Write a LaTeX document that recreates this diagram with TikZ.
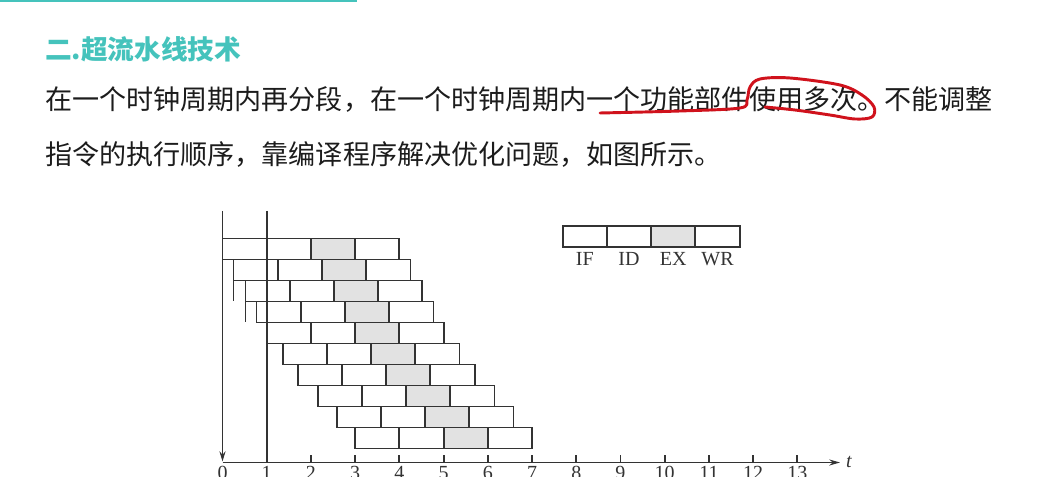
\documentclass[tikz,border=0pt]{standalone}
\usepackage{fontspec}
\setmainfont{Liberation Serif}
\newfontfamily\cjk{Noto Sans CJK SC}
\usetikzlibrary{arrows.meta}
\definecolor{teal1}{HTML}{45C3BC}
\definecolor{inkred}{HTML}{D0121C}
\definecolor{lineg}{HTML}{333333}
\definecolor{exg}{HTML}{E2E2E2}
\definecolor{txt}{HTML}{1C1C1C}
\begin{document}
\begin{tikzpicture}[x=0.75pt,y=-0.75pt,
  stage/.style={draw=lineg,line width=1.4pt,minimum width=33.17pt,minimum height=15.75pt,inner sep=0pt,outer sep=0pt,anchor=north west},
  ex/.style={stage,fill=exg},
  chartline/.style={draw=lineg,line width=1.4pt},
  lab/.style={font=\fontsize{15}{15}\selectfont,text=lineg,inner sep=0pt,anchor=base},
  bodytext/.style={anchor=west,inner sep=0pt,text=txt,font=\cjk\fontsize{20.3}{20.3}\selectfont},
]
\useasboundingbox (0,0) rectangle (1064,477);
\fill[white] (0,0) rectangle (1064,477);
\draw[teal1,line width=1.5pt] (0,0.8) -- (357,0.8);

% texts
\node[anchor=west,inner sep=0pt,text=teal1,font=\cjk\bfseries\fontsize{20}{20}\selectfont] (title) at (45,49) {二.超流水线技术};
\node[bodytext] (line1) at (45,100) {在一个时钟周期内再分段，在一个时钟周期内一个功能部件使用多次。不能调整};
\node[bodytext] (line2) at (45,155) {指令的执行顺序，靠编译程序解决优化问题，如图所示。};

% red annotation
\draw[inkred,line width=2.2pt,line cap=round,line join=round]
  plot[smooth,tension=0.55] coordinates {(600,113) (680,111) (740,108) (747,100) (750,87) (760,79) (790,78) (840,85) (862,95) (874,107) (872,117) (855,119) (830,115) (795,110) (765,107)};

% axes
\coordinate (o) at (222.5,462.5);
\coordinate (top0) at (222.5,211);
\coordinate (top1) at (266.7,211);
\coordinate (one) at (266.7,462.5);
\coordinate (tend) at (840,462.5);
\draw[chartline,-{Stealth[length=7.5pt,width=4.5pt]}] (top0) -- ([yshift=0.8pt]o);
\draw[chartline] (top1) -- (one);
\draw[chartline,-{Stealth[length=8pt,width=4.5pt]}] (o) -- (tend);
\node[font=\itshape\fontsize{15}{15}\selectfont,text=lineg,inner sep=0pt,anchor=base] (tlab) at (849,467) {t};
\foreach \i in {2,...,13}{
  \draw[chartline] (222.5+\i*44.22,462.5) -- ++(0,-8);
}
\foreach \i in {0,...,13}{
  \node[lab] (n\i) at (222.5+\i*44.22,479.5) {\i};
}

% pipeline rows
\foreach \s [count=\r] in {0,0.25,0.52,0.77,1.0,1.36,1.70,2.15,2.58,3.0}{
  \pgfmathsetmacro{\xx}{222.5+\s*44.22}
  \pgfmathsetmacro{\yy}{238.5+(\r-1)*21}
  \node[stage] (r\r-a) at (\xx,\yy) {};
  \node[stage] (r\r-b) at (r\r-a.north east) {};
  \node[ex] (r\r-c) at (r\r-b.north east) {};
  \node[stage] (r\r-d) at (r\r-c.north east) {};
}
\draw[chartline] (r2-a.south west) -- ++(0,21);
\draw[chartline] (r3-a.south west) -- ++(0,21);

% legend
\node[stage] (kIF) at (562.7,225.7) {};
\node[stage] (kID) at (kIF.north east) {};
\node[ex] (kEX) at (kID.north east) {};
\node[stage] (kWR) at (kEX.north east) {};
\node[lab] (lIF) at ([yshift=-14.25pt]kIF.south) {IF};
\node[lab] (lID) at ([yshift=-14.25pt]kID.south) {ID};
\node[lab] (lEX) at ([yshift=-14.25pt]kEX.south) {EX};
\node[lab] (lWR) at ([yshift=-14.25pt]kWR.south) {WR};
\end{tikzpicture}
\end{document}
